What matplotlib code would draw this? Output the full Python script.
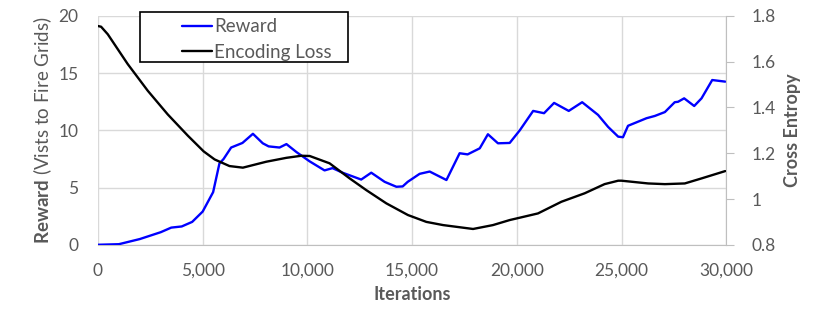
import numpy as np
import matplotlib
matplotlib.use("Agg")
import matplotlib.pyplot as plt
from matplotlib.patches import Rectangle
from matplotlib.ticker import FuncFormatter, MultipleLocator

plt.rcParams['font.family'] = ['Lato', 'DejaVu Sans']
plt.rcParams['mathtext.fontset'] = 'custom'
plt.rcParams['mathtext.rm'] = 'Lato'
plt.rcParams['mathtext.bf'] = 'Lato:bold'

# Reward (blue), left axis
reward_x = [0, 1000, 2000, 3000, 3500, 4000, 4500, 5000, 5500, 5800, 6000, 6360, 6900,
            7400, 7870, 8150, 8670, 9000, 9480, 10100, 10820, 11200, 11680, 12570,
            13050, 13690, 14250, 14550, 14790, 15360, 15840, 16640, 17270, 17650,
            18230, 18620, 19100, 19660, 20140, 20780, 21300, 21780, 22480, 23120,
            23880, 24360, 24840, 25070, 25310, 25710, 26190, 26590, 27070, 27540,
            27700, 27990, 28470, 28820, 29330, 29950]
reward_y = [0.0, 0.05, 0.5, 1.1, 1.5, 1.6, 2.0, 2.9, 4.6, 7.1, 7.5, 8.5, 8.9,
            9.7, 8.87, 8.6, 8.5, 8.8, 8.1, 7.3, 6.5, 6.7, 6.3, 5.7,
            6.3, 5.5, 5.07, 5.1, 5.5, 6.2, 6.4, 5.66, 8.0, 7.9,
            8.43, 9.66, 8.87, 8.9, 10.0, 11.7, 11.5, 12.4, 11.7, 12.46,
            11.35, 10.3, 9.45, 9.4, 10.4, 10.7, 11.06, 11.26, 11.6, 12.46,
            12.5, 12.8, 12.13, 12.8, 14.4, 14.26]

# Encoding loss (black), right axis
loss_x = [0, 150, 470, 1420, 2380, 3330, 4290, 5050, 5570, 6280, 6920, 8040, 9000,
          9710, 10110, 11060, 12020, 12810, 13770, 14800, 15680, 16480, 17910,
          18860, 19660, 20220, 21010, 22130, 23240, 24190, 24840, 25000, 26270,
          27070, 28020, 28820, 29950]
loss_y = [1.756, 1.753, 1.72, 1.59, 1.473, 1.37, 1.277, 1.208, 1.173, 1.144, 1.137,
          1.163, 1.18, 1.189, 1.188, 1.156, 1.09, 1.039, 0.981, 0.93, 0.90, 0.886,
          0.869, 0.886, 0.908, 0.92, 0.937, 0.988, 1.025, 1.065, 1.08, 1.08, 1.068,
          1.065, 1.068, 1.09, 1.122]

grey = '#595959'
grid = '#d9d9d9'

fig = plt.figure(figsize=(8.3, 3.13), dpi=100)
ax = fig.add_axes([0.118, 0.218, 0.757, 0.731])
ax2 = ax.twinx()

ax.plot(reward_x, reward_y, color='#0000ff', lw=1.7, solid_joinstyle='round',
        solid_capstyle='round', zorder=3)
ax2.plot(loss_x, loss_y, color='black', lw=1.7, solid_joinstyle='round',
         solid_capstyle='round', zorder=3)

ax.set_xlim(0, 30000)
ax.set_ylim(0, 20)
ax2.set_ylim(0.8, 1.8)
ax.xaxis.set_major_locator(MultipleLocator(5000))
ax.yaxis.set_major_locator(MultipleLocator(5))
ax2.yaxis.set_major_locator(MultipleLocator(0.2))
ax.xaxis.set_major_formatter(FuncFormatter(lambda v, p: f"{int(v):,}"))
ax2.yaxis.set_major_formatter(FuncFormatter(lambda v, p: f"{v:g}"))

ax.grid(True, color=grid, lw=1)
ax.set_axisbelow(True)
for a in (ax, ax2):
    for s in ('top', 'left'):
        a.spines[s].set_visible(False)
    a.spines['bottom'].set_color('#bfbfbf')
    a.spines['right'].set_color('#bfbfbf')
ax.spines['right'].set_visible(False)
ax2.spines['bottom'].set_visible(False)

ax.tick_params(axis='both', length=0, labelsize=12.5, labelcolor=grey)
ax.tick_params(axis='y', pad=14)
ax.tick_params(axis='x', pad=13)
ax2.tick_params(axis='y', length=6, color='#bfbfbf', labelsize=12.5, labelcolor=grey, pad=12)

ax.set_xlabel('Iterations', fontsize=13, fontweight='bold', color=grey, labelpad=5)
ax.set_ylabel(r'$\bf{Reward}$ (Vists to Fire Grids)', fontsize=13.5, color=grey, labelpad=3)
ax2.set_ylabel('Cross Entropy', fontsize=13, fontweight='bold', color=grey, labelpad=6)

# legend box
fig.patches.append(Rectangle((140 / 830, 1 - 62 / 313), 208 / 830, 50 / 313,
                             transform=fig.transFigure, fill=True, facecolor='white',
                             edgecolor='black', lw=1.2, zorder=5))
handles = [ax.lines[0], ax2.lines[0]]
leg = fig.legend(handles, ['Reward', 'Encoding Loss'], loc='upper left',
                 bbox_to_anchor=(169 / 830, 1 - 5 / 313), frameon=False, fontsize=13.5,
                 handlelength=1.6, handletextpad=0.1, labelspacing=0.45,
                 borderpad=0.2, labelcolor=grey)
leg.set_zorder(6)

fig.savefig('out.png', dpi=100)
